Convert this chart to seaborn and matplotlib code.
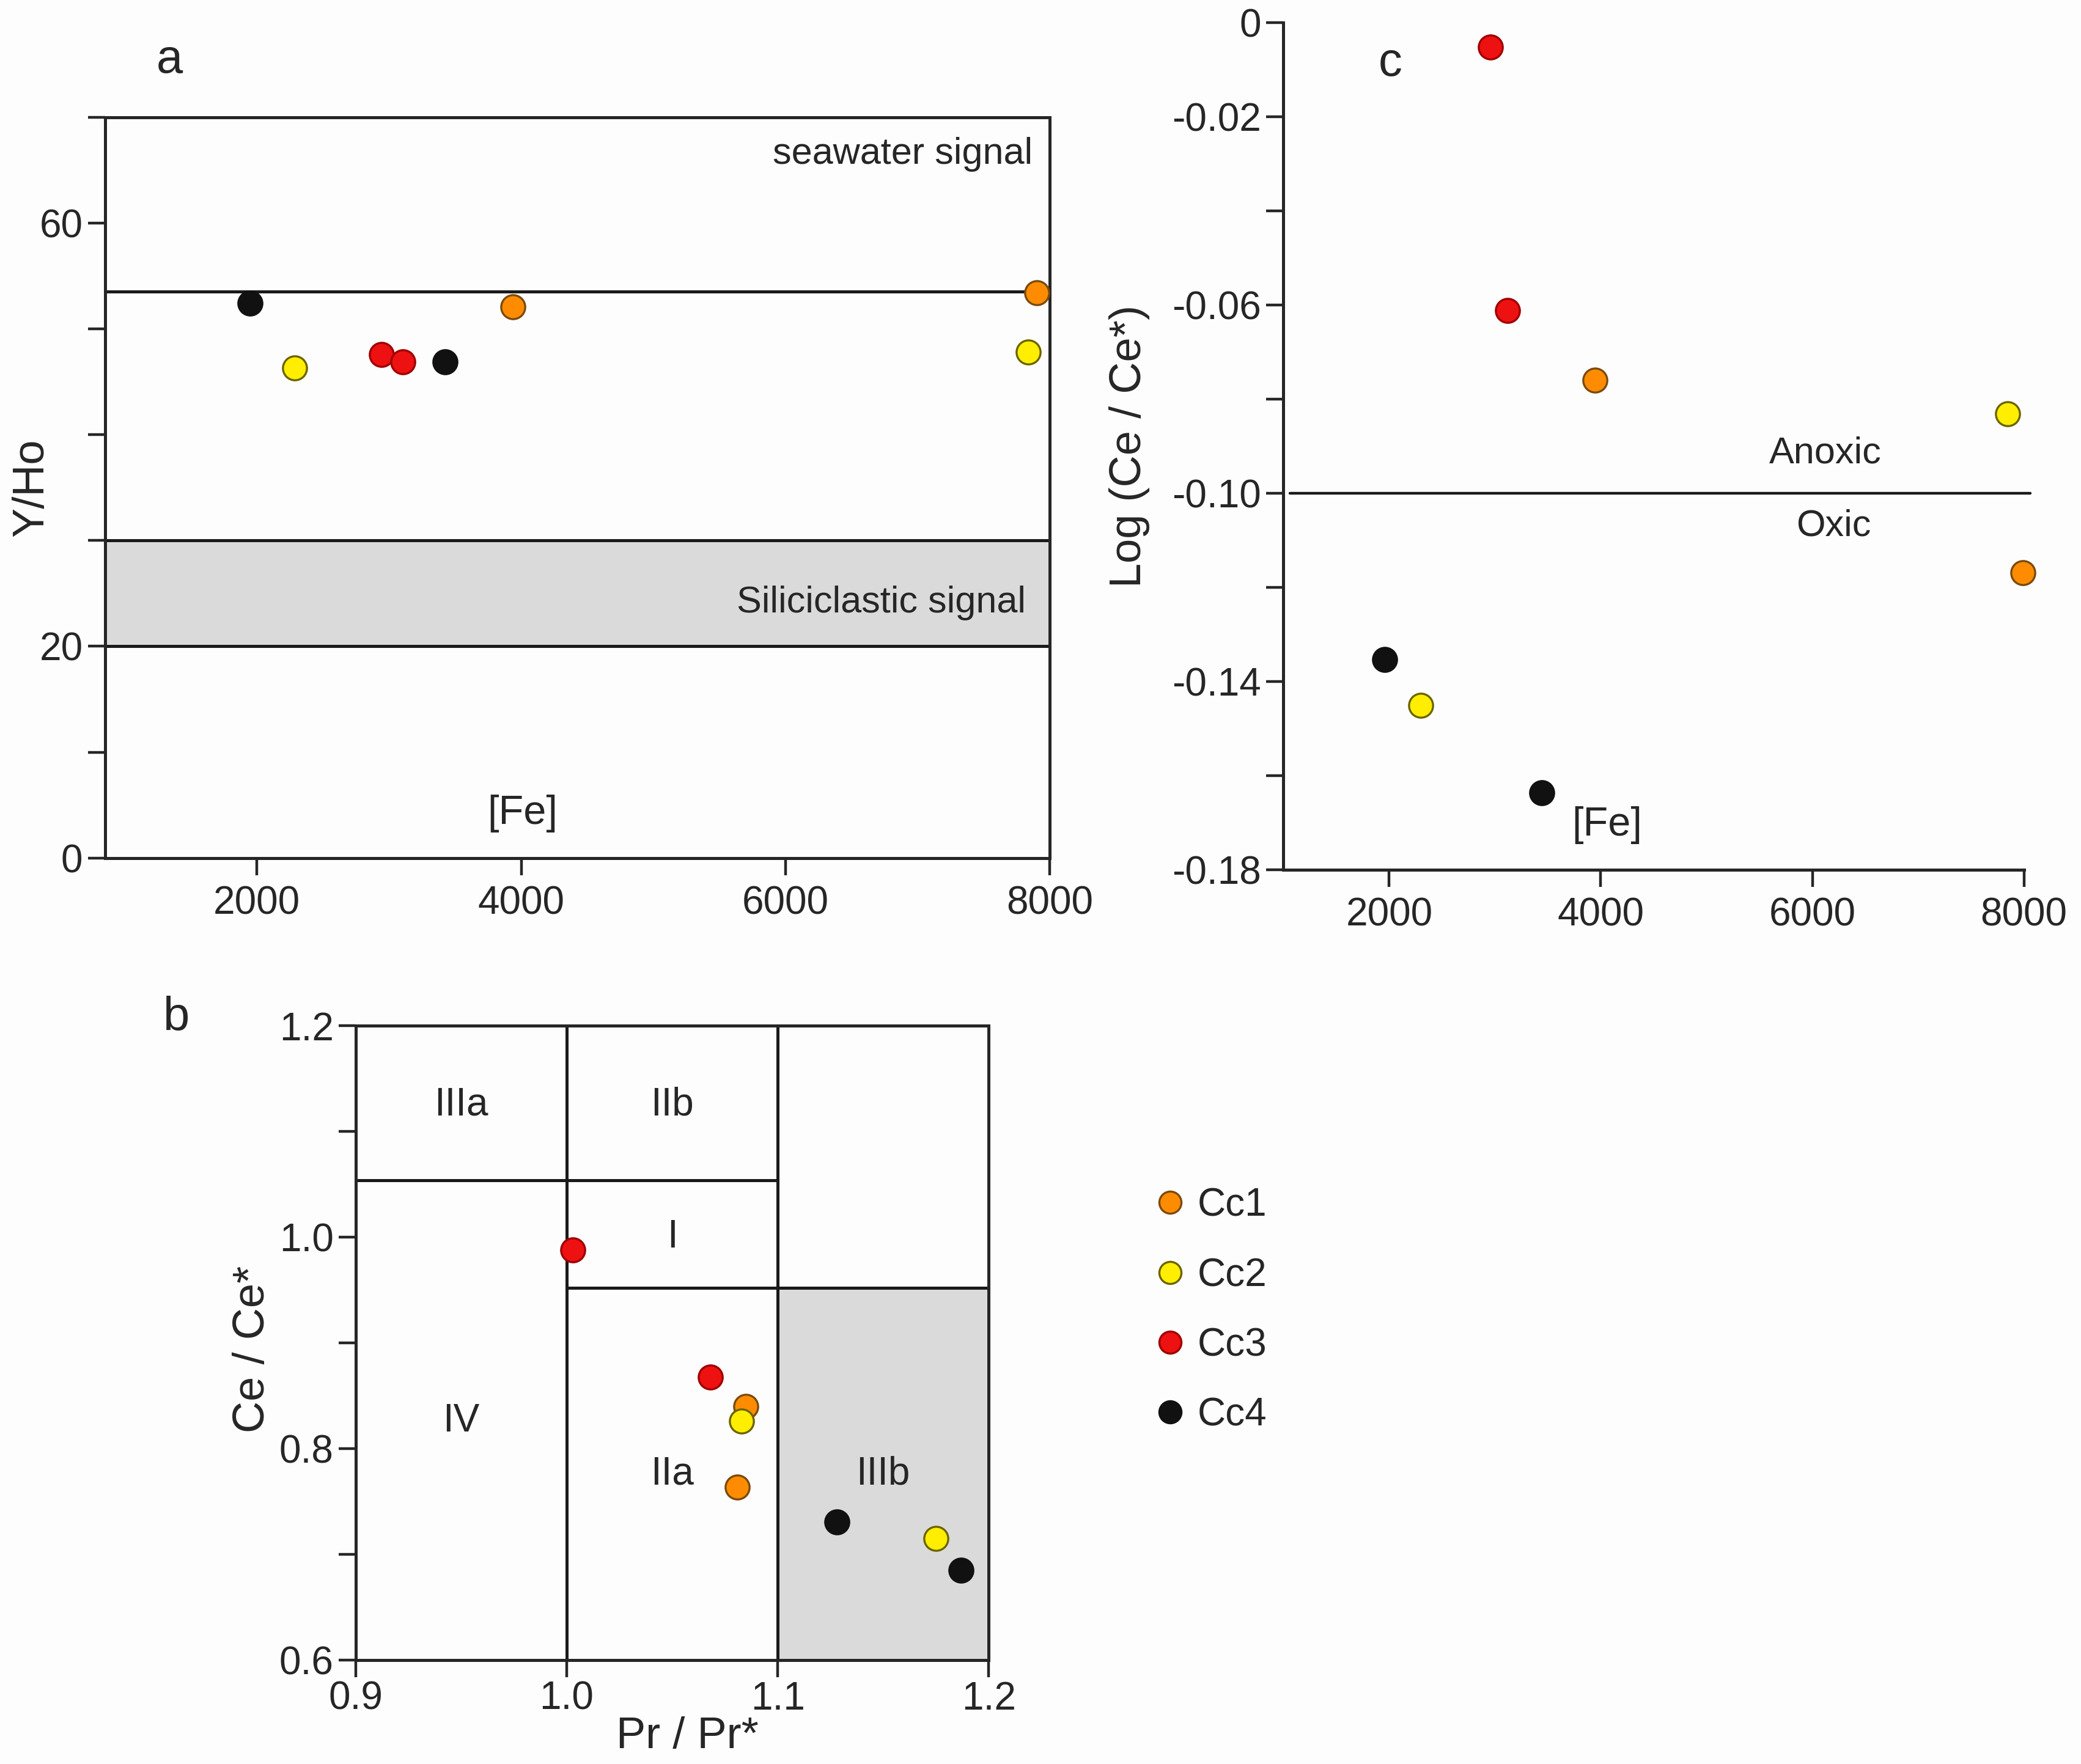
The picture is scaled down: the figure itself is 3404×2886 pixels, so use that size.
import matplotlib
matplotlib.use("Agg")
import matplotlib.pyplot as plt
from matplotlib.lines import Line2D
import seaborn as sns
import pandas as pd

# sample groups and marker colours
groups = ["Cc1", "Cc2", "Cc3", "Cc4"]
face_colors = ["#ff8c00", "#ffee00", "#ee1111", "#111111"]
edge_colors = ["#7a4a10", "#6b6400", "#a00000", "#111111"]

# panel a : [Fe] vs Y/Ho
a_group = ["Cc4", "Cc2", "Cc3", "Cc3", "Cc4", "Cc1", "Cc1", "Cc2"]
a_fe = [1950, 2285, 2945, 3105, 3425, 3935, 7900, 7835]
a_yho = [52.4, 46.3, 47.6, 46.9, 46.9, 52.1, 53.4, 47.8]
a_yticks = [0, 10, 20, 30, 40, 50, 60, 70]
a_ylabels = ["0", "", "20", "", "", "", "60", ""]
a_xticks = [2000, 4000, 6000, 8000]
seawater_line = 53.5
silici_band = (20, 30)

# panel b : Pr/Pr* vs Ce/Ce*
b_group = ["Cc3", "Cc3", "Cc1", "Cc2", "Cc1", "Cc4", "Cc2", "Cc4"]
b_pr = [1.003, 1.068, 1.085, 1.083, 1.081, 1.128, 1.175, 1.187]
b_ce = [0.988, 0.868, 0.840, 0.826, 0.764, 0.731, 0.715, 0.685]
b_xticks = [0.9, 1.0, 1.1, 1.2]
b_xlabels = ["0.9", "1.0", "1.1", "1.2"]
b_yticks = [0.6, 0.7, 0.8, 0.9, 1.0, 1.1, 1.2]
b_ylabels = ["0.6", "", "0.8", "", "1.0", "", "1.2"]
b_regions = ["IIIa", "IIb", "I", "IV", "IIa", "IIIb"]
b_region_x = [0.95, 1.05, 1.05, 0.95, 1.05, 1.15]
b_region_y = [1.125, 1.125, 1.0, 0.826, 0.776, 0.776]
b_upper_split = 1.054
b_lower_split = 0.952

# panel c : [Fe] vs Log(Ce/Ce*)
c_group = ["Cc3", "Cc3", "Cc1", "Cc2", "Cc1", "Cc4", "Cc2", "Cc4"]
c_fe = [2955, 3120, 3945, 7845, 7990, 1960, 2300, 3445]
c_ce = [-0.0052, -0.0612, -0.0759, -0.0831, -0.1168, -0.1353, -0.1450, -0.1636]
c_yticks = [0, -0.02, -0.04, -0.06, -0.08, -0.10, -0.12, -0.14, -0.16, -0.18]
c_ylabels = ["0", "-0.02", "", "-0.06", "", "-0.10", "", "-0.14", "", "-0.18"]
c_xticks = [2000, 4000, 6000, 8000]
redox_line = -0.10

sns.set_style("ticks")
plt.rcParams["font.family"] = ["Liberation Sans Narrow", "Liberation Sans", "DejaVu Sans"]
plt.rcParams["axes.linewidth"] = 1.8
plt.rcParams["xtick.major.width"] = 1.6
plt.rcParams["ytick.major.width"] = 1.6

bg = "#fdfdfd"
fig = plt.figure(figsize=(17.02, 14.43), dpi=200, facecolor=bg)
ax_a = fig.add_axes([0.0504, 0.5136, 0.4541, 0.4200])
ax_c = fig.add_axes([0.6167, 0.5068, 0.3559, 0.4804])
ax_b = fig.add_axes([0.1709, 0.0588, 0.3042, 0.3597])

marker_s = 200
tick_fs = 23


def draw_points(ax, x, y, grp):
    df = pd.DataFrame({"x": x, "y": y, "g": grp})
    for g, fc, ec in zip(groups, face_colors, edge_colors):
        sub = df[df["g"] == g]
        sns.scatterplot(data=sub, x="x", y="y", ax=ax, color=fc, edgecolor=ec,
                        linewidth=1.2, s=marker_s, zorder=5, clip_on=False, legend=False)
    ax.set_xlabel("")
    ax.set_ylabel("")
    ax.set_facecolor(bg)


# ---- panel a
ax_a.axhspan(silici_band[0], silici_band[1], color="#dadada", zorder=0, lw=0)
for yv in [seawater_line, silici_band[0], silici_band[1]]:
    ax_a.axhline(yv, color="#1a1a1a", lw=1.8, zorder=1)
draw_points(ax_a, a_fe, a_yho, a_group)
ax_a.set_xlim(850, 8000)
ax_a.set_ylim(0, 70)
ax_a.set_yticks(a_yticks)
ax_a.set_yticklabels(a_ylabels, fontsize=tick_fs)
ax_a.set_xticks(a_xticks)
ax_a.set_xticklabels([str(v) for v in a_xticks], fontsize=tick_fs)
ax_a.tick_params(axis="y", length=10, pad=3)
ax_a.tick_params(axis="x", length=10, pad=6)
ax_a.set_ylabel("Y/Ho", fontsize=26)
ax_a.yaxis.set_label_coords(-0.056, 0.5)
ax_a.text(7870, 66.5, "seawater signal", ha="right", va="center", fontsize=22)
ax_a.text(7820, 24.1, "Siliciclastic signal", ha="right", va="center", fontsize=22)
ax_a.text(4010, 4.2, "[Fe]", ha="center", va="center", fontsize=24)

# ---- panel c
ax_c.plot([1060, 8060], [redox_line, redox_line], color="#1a1a1a", lw=1.6, clip_on=False, zorder=1)
draw_points(ax_c, c_fe, c_ce, c_group)
sns.despine(ax=ax_c)
ax_c.set_xlim(1000, 8000)
ax_c.set_ylim(-0.18, 0)
ax_c.set_yticks(c_yticks)
ax_c.set_yticklabels(c_ylabels, fontsize=tick_fs)
ax_c.set_xticks(c_xticks)
ax_c.set_xticklabels([str(v) for v in c_xticks], fontsize=tick_fs)
ax_c.tick_params(axis="y", length=10, pad=3)
ax_c.tick_params(axis="x", length=10, pad=6)
ax_c.set_ylabel("Log (Ce / Ce*)", fontsize=26)
ax_c.yaxis.set_label_coords(-0.18, 0.5)
ax_c.text(6120, -0.0916, "Anoxic", ha="center", va="center", fontsize=22)
ax_c.text(6200, -0.1070, "Oxic", ha="center", va="center", fontsize=22)
ax_c.text(4060, -0.1705, "[Fe]", ha="center", va="center", fontsize=24)

# ---- panel b
ax_b.fill_between([1.1, 1.2], 0.6, b_lower_split, color="#dadada", lw=0, zorder=0)
ax_b.axvline(1.0, color="#1a1a1a", lw=1.8, zorder=1)
ax_b.axvline(1.1, color="#1a1a1a", lw=1.8, zorder=1)
ax_b.plot([0.9, 1.1], [b_upper_split, b_upper_split], color="#1a1a1a", lw=1.8, zorder=1)
ax_b.plot([1.0, 1.2], [b_lower_split, b_lower_split], color="#1a1a1a", lw=1.8, zorder=1)
draw_points(ax_b, b_pr, b_ce, b_group)
ax_b.set_xlim(0.9, 1.2)
ax_b.set_ylim(0.6, 1.2)
ax_b.set_xticks(b_xticks)
ax_b.set_xticklabels(b_xlabels, fontsize=tick_fs)
ax_b.set_yticks(b_yticks)
ax_b.set_yticklabels(b_ylabels, fontsize=tick_fs)
ax_b.tick_params(axis="y", length=10, pad=3)
ax_b.tick_params(axis="x", length=10, pad=2)
ax_b.set_ylabel("Ce / Ce*", fontsize=26)
ax_b.yaxis.set_label_coords(-0.13, 0.49)
ax_b.set_xlabel("Pr / Pr*", fontsize=26)
ax_b.xaxis.set_label_coords(0.524, -0.088)
for lab, x, y in zip(b_regions, b_region_x, b_region_y):
    ax_b.text(x, y, lab, ha="center", va="center", fontsize=23)

# panel letters
fig.text(0.0816, 0.966, "a", ha="center", va="center", fontsize=28)
fig.text(0.0848, 0.423, "b", ha="center", va="center", fontsize=28)
fig.text(0.668, 0.964, "c", ha="center", va="center", fontsize=28)

# legend
handles = [Line2D([], [], marker="o", ls="", markersize=13, markerfacecolor=fc,
                  markeredgecolor=ec, markeredgewidth=1.2)
           for fc, ec in zip(face_colors, edge_colors)]
fig.legend(handles, groups, loc="center left", bbox_to_anchor=(0.534, 0.257),
           frameon=False, fontsize=23, handletextpad=0.1, labelspacing=0.85,
           handlelength=1.2)

fig.savefig("out.png", dpi=200, facecolor=bg)
